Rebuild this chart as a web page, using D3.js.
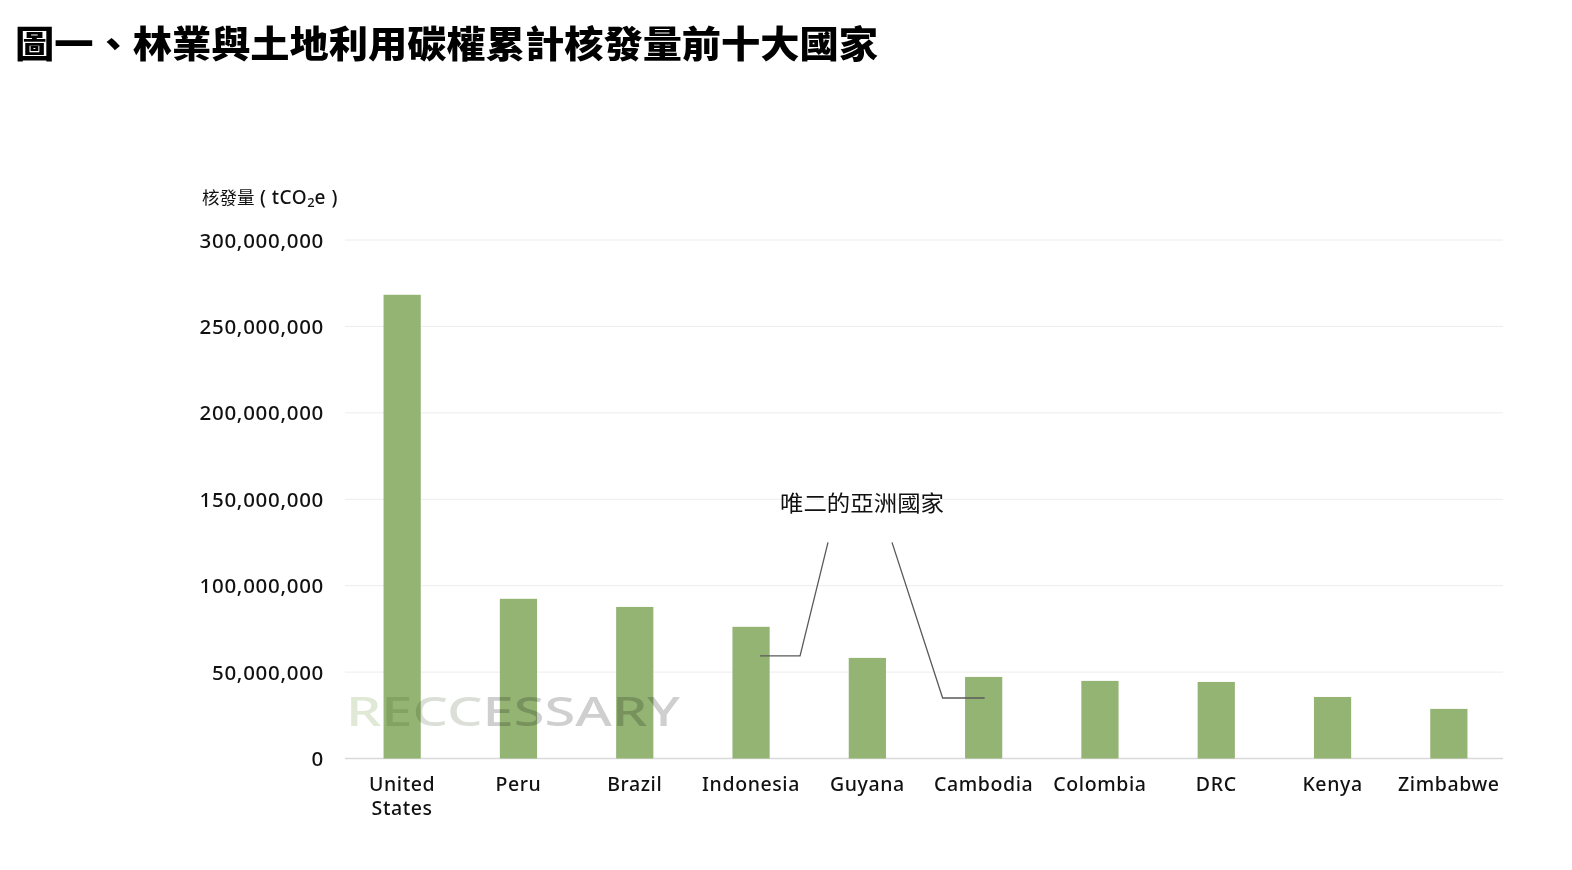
<!DOCTYPE html>
<html>
<head>
<meta charset="utf-8">
<script src="https://cdn.jsdelivr.net/npm/d3@7"></script>
<style>
  html, body { margin: 0; padding: 0; background: #ffffff; }
  svg { display: block; }
</style>
</head>
<body>
<svg id="chart" width="1572" height="870"></svg>
<script>
// ---- data ----
const categories = ["United States", "Peru", "Brazil", "Indonesia", "Guyana", "Cambodia", "Colombia", "DRC", "Kenya", "Zimbabwe"];
const issuance = [268300000, 92400000, 87700000, 76200000, 58200000, 47200000, 44900000, 44300000, 35600000, 28700000];
const yTicks = [0, 50000000, 100000000, 150000000, 200000000, 250000000, 300000000];
const titleText = "圖一、林業與土地利用碳權累計核發量前十大國家";
const annotationText = "唯二的亞洲國家";
const annotationCountries = ["Indonesia", "Cambodia"];
const annotationAnchorValues = [59400000, 35000000];
const annotationLabelValue = 143000000;

// ---- layout ----
const W = 1572, H = 870;
const plotLeft = 344, plotRight = 1507, gridRight = 1503;
const yTop = 240, yBottom = 758.5;
const svg = d3.select("#chart");
const latin = "'Noto Sans', 'Open Sans', sans-serif";
const cjk = "'Noto Sans CJK TC', 'Noto Sans CJK SC', sans-serif";

const x = d3.scaleBand().domain(categories).range([plotLeft, plotRight])
  .paddingInner(0.68).paddingOuter(0.34);
const y = d3.scaleLinear().domain([0, 300000000]).range([yBottom, yTop]);

// title
svg.append("text")
  .attr("x", 15).attr("y", 58)
  .attr("font-family", cjk).attr("font-weight", 900).attr("font-size", 37)
  .attr("textLength", 863).attr("lengthAdjust", "spacingAndGlyphs")
  .attr("fill", "#000")
  .text(titleText);

// gridlines
svg.append("g").selectAll("line").data(yTicks).join("line")
  .attr("x1", plotLeft + 1).attr("x2", gridRight)
  .attr("y1", d => y(d)).attr("y2", d => y(d))
  .attr("stroke", d => d === 0 ? "#d9d9d9" : "#ececec")
  .attr("stroke-width", d => d === 0 ? 1.5 : 1);

// y tick labels
svg.append("g").selectAll("text").data(yTicks).join("text")
  .attr("x", 324).attr("y", d => y(d) + 7.5)
  .attr("text-anchor", "end")
  .attr("font-family", latin).attr("font-size", 20.5).attr("font-weight", 500)
  .attr("letter-spacing", 0.7)
  .attr("fill", "#111")
  .text(d => d3.format(",")(d));

// y-axis title
const yt = svg.append("text")
  .attr("x", 202).attr("y", 204)
  .attr("font-family", cjk).attr("font-size", 17.5).attr("fill", "#111");
yt.append("tspan").text("核發量");
yt.append("tspan").attr("font-family", latin).attr("font-size", 19).attr("font-weight", 500)
  .attr("letter-spacing", 0.5).text("\u00a0(\u00a0tCO");
yt.append("tspan").attr("font-family", latin).attr("font-size", 13).attr("font-weight", 500).attr("dy", 3).text("2");
yt.append("tspan").attr("font-family", latin).attr("font-size", 19).attr("font-weight", 500)
  .attr("letter-spacing", 0.5).attr("dy", -3).text("e\u00a0)");

// bars
svg.append("g").selectAll("rect").data(categories).join("rect")
  .attr("x", d => x(d))
  .attr("width", x.bandwidth())
  .attr("y", (d, i) => y(issuance[i]))
  .attr("height", (d, i) => y(0) - y(issuance[i]))
  .attr("fill", "#94b473");

// x labels
const xl = svg.append("g").selectAll("text").data(categories).join("text")
  .attr("x", d => x(d) + x.bandwidth() / 2)
  .attr("y", 791)
  .attr("text-anchor", "middle")
  .attr("font-family", latin).attr("font-size", 19.5).attr("font-weight", 500)
  .attr("letter-spacing", 0.6)
  .attr("fill", "#111");
xl.each(function(d) {
  const t = d3.select(this);
  const parts = d === "United States" ? ["United", "States"] : [d];
  parts.forEach((p, i) => {
    t.append("tspan").attr("x", x(d) + x.bandwidth() / 2).attr("dy", i === 0 ? 0 : 24).text(p);
  });
});

// watermark
const wm = svg.append("text")
  .attr("x", 346).attr("y", 726)
  .attr("font-family", latin).attr("font-weight", 500).attr("font-size", 40)
  .attr("textLength", 334).attr("lengthAdjust", "spacingAndGlyphs")
  .style("mix-blend-mode", "multiply");
[["RE", "#dfe9d5"], ["CC", "#dcdfd8"], ["ESSARY", "#cfcfcf"]].forEach(([s, c]) => {
  wm.append("tspan").attr("fill", c).text(s);
});

// annotation
const labelCx = 862;
const labelY = y(annotationLabelValue);
svg.append("text")
  .attr("x", labelCx).attr("y", labelY)
  .attr("text-anchor", "middle")
  .attr("font-family", cjk).attr("font-size", 22)
  .attr("textLength", 164).attr("lengthAdjust", "spacingAndGlyphs")
  .attr("fill", "#111")
  .text(annotationText);

const lineTopY = labelY + 31;
const leaders = [
  { top: labelCx - 34, bendDx: 49, endDx: 9 },
  { top: labelCx + 30, bendDx: -41, endDx: 1 }
];
annotationCountries.forEach((c, i) => {
  const cx = x(c) + x.bandwidth() / 2;
  const ay = y(annotationAnchorValues[i]);
  const L = leaders[i];
  svg.append("path")
    .attr("d", d3.line()([[L.top, lineTopY], [cx + L.bendDx, ay], [cx + L.endDx, ay]]))
    .attr("fill", "none").attr("stroke", "#595959").attr("stroke-width", 1.3);
});
</script>
</body>
</html>
